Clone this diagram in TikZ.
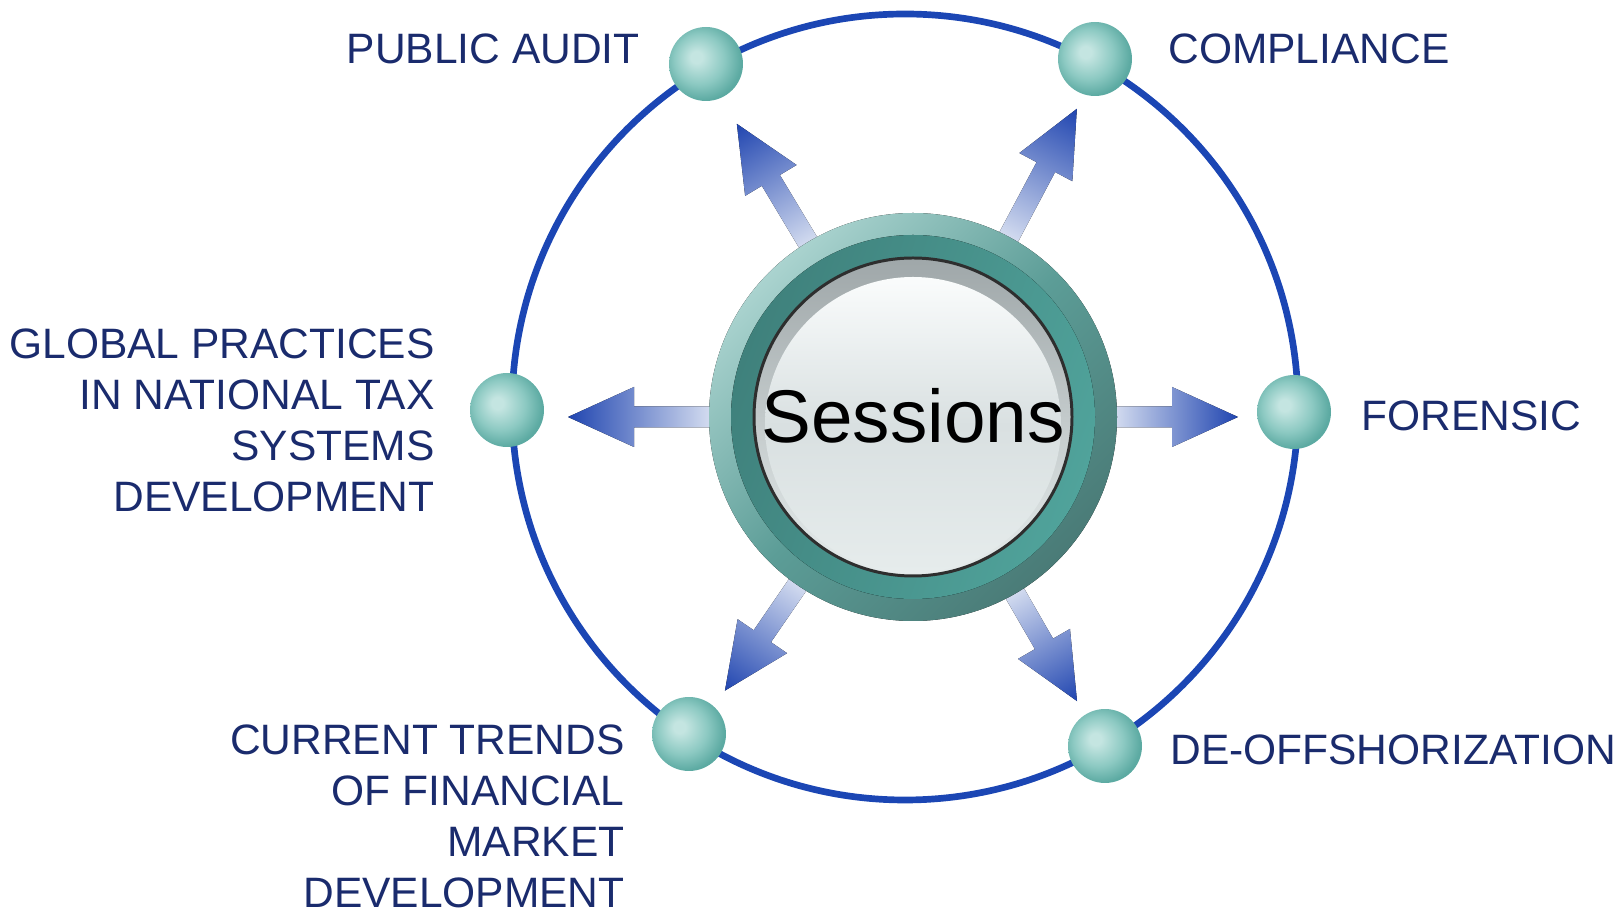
\documentclass[tikz,border=0pt]{standalone}
\usepackage{fontspec}
\setmainfont{Liberation Sans}
\usetikzlibrary{calc}
\definecolor{labelnavy}{HTML}{1A2B6D}
\definecolor{ringblue}{HTML}{1B46B4}
\definecolor{arrdark}{HTML}{2045B0}
\definecolor{arrlight}{HTML}{DDE4F3}
\definecolor{ballhi}{HTML}{C4E5E1}
\definecolor{ballmid}{HTML}{8CC9C2}
\definecolor{balledge}{HTML}{5CAAA2}
\definecolor{btnlight}{HTML}{AAD3CF}
\definecolor{btnmid}{HTML}{5C9D97}
\definecolor{btndark}{HTML}{4A7B77}
\definecolor{btninner}{HTML}{3F817C}
\definecolor{btninnertwo}{HTML}{50A39B}
\definecolor{facering}{HTML}{2E2E2E}
\definecolor{facerim}{HTML}{9FA7A9}
\definecolor{facebot}{HTML}{E6ECEC}
\definecolor{facehi}{HTML}{FAFCFC}
\definecolor{facemid}{HTML}{D9E0E1}
\pgfdeclareradialshading{ballshade}{\pgfpoint{-7bp}{5bp}}{%
  color(0bp)=(ballhi); color(4bp)=(ballhi); color(17bp)=(ballmid); color(27bp)=(balledge); color(50bp)=(balledge)}
\tikzset{
  ball/.style={circle, inner sep=0pt, minimum size=1.48cm, shade, shading=ballshade},
  sesslabel/.style={inner sep=0pt, text=labelnavy, font=\fontsize{24.2}{29.1}\selectfont},
  arrowfill/.style={left color=arrlight, right color=arrdark},
}
\newcommand\sessarrow[2]{%
  \begin{scope}[transform canvas={shift={(ctr)},rotate=#1}]
    \fill[arrowfill] (195,-10.5) -- ({#2-66},-10.5) -- ({#2-66},-30) -- (#2,0)
      -- ({#2-66},30) -- ({#2-66},10.5) -- (195,10.5) -- cycle;
  \end{scope}}
\begin{document}
\begin{tikzpicture}[x=0.02cm, y=0.02cm]
\useasboundingbox (0,0) rectangle (1617,909);
\coordinate (ctr) at (913,492);
\coordinate (orbit) at (905,502);
% orbit circle
\draw[ringblue, line width=3.8pt] (orbit) circle (393);
% arrows
\sessarrow{121}{342}
\sessarrow{62}{349}
\sessarrow{180}{345}
\sessarrow{0}{325}
\sessarrow{235.5}{332}
\sessarrow{300}{328}
% central button
\fill[top color=btnlight, bottom color=btndark, middle color=btnmid, shading angle=45] (ctr) circle (204);
\fill[top color=btninner, bottom color=btninnertwo, shading angle=70] (ctr) circle (182);
\draw[line width=1.7pt, draw=facering, top color=facerim, bottom color=facebot] (ctr) circle (159);
\shade[top color=facehi, bottom color=facebot, middle color=facemid] ($(ctr)+(0,-8)$) circle (148);
\node[font=\fontsize{42.5}{50}\selectfont, inner sep=0pt, anchor=base] (sessions) at (913,466) {Sessions};
% balls
\node[ball] (audit) at (706,845) {};
\node[ball] (compl) at (1095,850) {};
\node[ball] (global) at (507,499) {};
\node[ball] (foren) at (1294,497) {};
\node[ball] (trends) at (689,175) {};
\node[ball] (deoff) at (1105,163) {};
% labels
\node[sesslabel, anchor=base east] (tAudit) at (640,845) {PUBLIC AUDIT};
\node[sesslabel, anchor=base west] (tCompl) at (1168,845) {COMPLIANCE};
\node[sesslabel, anchor=north east, align=right] (tGlobal) at (435,581) {GLOBAL PRACTICES\\IN NATIONAL TAX\\SYSTEMS\\DEVELOPMENT};
\node[sesslabel, anchor=base west] (tForen) at (1361,478) {FORENSIC};
\node[sesslabel, anchor=north east, align=right] (tTrends) at (625,185) {CURRENT TRENDS\\OF FINANCIAL\\MARKET\\DEVELOPMENT};
\node[sesslabel, anchor=base west] (tDeoff) at (1170,144) {DE-OFFSHORIZATION};
\end{tikzpicture}
\end{document}
